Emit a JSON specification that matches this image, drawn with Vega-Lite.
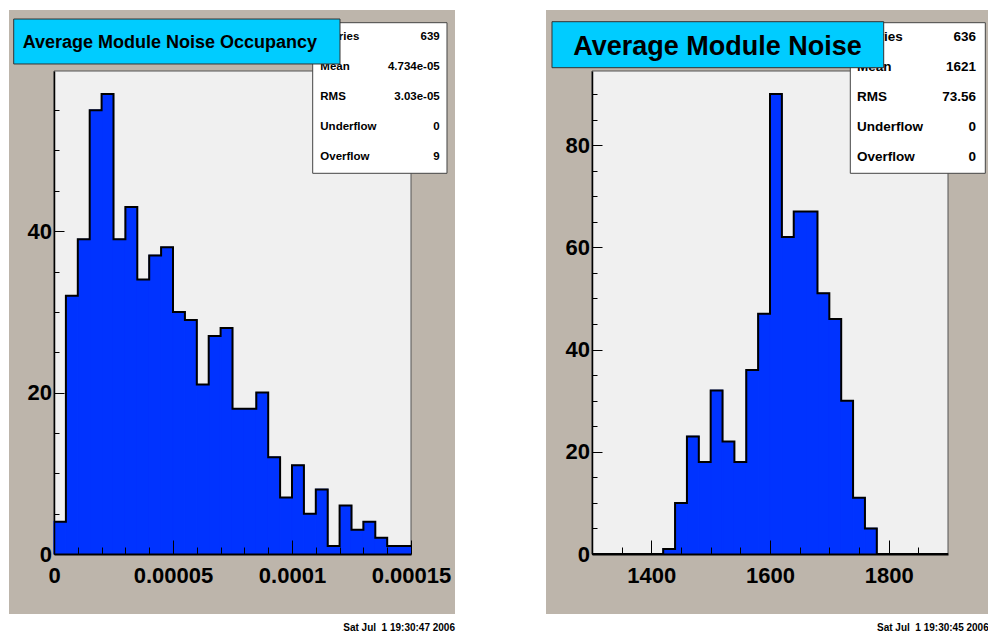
{
  "$schema": "https://vega.github.io/schema/vega-lite/v6.json",
  "autosize": {"type": "pad"},
  "padding": {"left": 8, "top": 9, "right": 0, "bottom": 0},
  "background": "white",
  "bounds": "flush",
  "spacing": 181,
  "config": {
    "view": {"stroke": null},
    "axis": {
      "labelFont": "Liberation Sans",
      "labelFontWeight": "bold",
      "labelFontSize": 22,
      "labelColor": "black",
      "tickColor": "black",
      "tickWidth": 1,
      "domainColor": "black",
      "grid": false,
      "labelFlush": false,
      "labelOverlap": false
    },
    "text": {"font": "Liberation Sans", "fontWeight": "bold", "color": "black"}
  },
  "hconcat": [
    {
      "width": 357,
      "height": 483,
      "data": {"values": [
        {"lo": 0, "hi": 0.000005, "count": 4},
        {"lo": 0.000005, "hi": 0.00001, "count": 32},
        {"lo": 0.00001, "hi": 0.000015, "count": 39},
        {"lo": 0.000015, "hi": 0.00002, "count": 55},
        {"lo": 0.00002, "hi": 0.000025, "count": 57},
        {"lo": 0.000025, "hi": 0.00003, "count": 39},
        {"lo": 0.00003, "hi": 0.000035, "count": 43},
        {"lo": 0.000035, "hi": 0.00004, "count": 34},
        {"lo": 0.00004, "hi": 0.000045, "count": 37},
        {"lo": 0.000045, "hi": 0.00005, "count": 38},
        {"lo": 0.00005, "hi": 0.000055, "count": 30},
        {"lo": 0.000055, "hi": 0.00006, "count": 29},
        {"lo": 0.00006, "hi": 0.000065, "count": 21},
        {"lo": 0.000065, "hi": 0.00007, "count": 27},
        {"lo": 0.00007, "hi": 0.000075, "count": 28},
        {"lo": 0.000075, "hi": 0.00008, "count": 18},
        {"lo": 0.00008, "hi": 0.000085, "count": 18},
        {"lo": 0.000085, "hi": 0.00009, "count": 20},
        {"lo": 0.00009, "hi": 0.000095, "count": 12},
        {"lo": 0.000095, "hi": 0.0001, "count": 7},
        {"lo": 0.0001, "hi": 0.000105, "count": 11},
        {"lo": 0.000105, "hi": 0.00011, "count": 5},
        {"lo": 0.00011, "hi": 0.000115, "count": 8},
        {"lo": 0.000115, "hi": 0.00012, "count": 1},
        {"lo": 0.00012, "hi": 0.000125, "count": 6},
        {"lo": 0.000125, "hi": 0.00013, "count": 3},
        {"lo": 0.00013, "hi": 0.000135, "count": 4},
        {"lo": 0.000135, "hi": 0.00014, "count": 2},
        {"lo": 0.00014, "hi": 0.000145, "count": 1},
        {"lo": 0.000145, "hi": 0.00015, "count": 1}
      ]},
      "resolve": {"axis": {"x": "independent", "y": "independent"}},
      "layer": [
        {
          "data": {"values": [{}]},
          "mark": {"type": "rect", "fill": "#bdb5ab", "clip": false},
          "encoding": {
            "x": {"datum": -0.000018908, "type": "quantitative", "axis": null},
            "x2": {"datum": 0.000168487},
            "y": {"datum": 67.409, "type": "quantitative", "axis": null},
            "y2": {"datum": -7.4348}
          }
        },
        {
          "data": {"values": [{}]},
          "mark": {"type": "rect", "fill": "#f0f0f0", "stroke": "#555555", "strokeWidth": 1},
          "encoding": {
            "x": {"datum": 0, "type": "quantitative", "title": null,
              "scale": {"domain": [0, 0.00015], "nice": false, "zero": false},
              "axis": {"orient": "bottom", "zindex": 1, "values": [0.00001, 0.00002, 0.00003, 0.00004, 0.00006, 0.00007, 0.00008, 0.00009, 0.00011, 0.00012, 0.00013, 0.00014], "tickSize": -7, "labels": false, "domain": false}},
            "x2": {"datum": 0.00015},
            "y": {"datum": 0, "type": "quantitative", "title": null,
              "scale": {"domain": [0, 59.85], "nice": false, "zero": false},
              "axis": {"orient": "left", "zindex": 1, "values": [5, 10, 15, 25, 30, 35, 45, 50, 55], "tickSize": -5, "labels": false, "domain": false}},
            "y2": {"datum": 59.85}
          }
        },
        {
          "mark": {"type": "rect", "fill": "#0033ff", "stroke": "#0033ff", "strokeWidth": 1.2},
          "encoding": {
            "x": {"field": "lo", "type": "quantitative", "title": null,
              "scale": {"domain": [0, 0.00015], "nice": false, "zero": false},
              "axis": {"orient": "bottom", "zindex": 1, "values": [0, 0.00005, 0.0001, 0.00015], "format": ".5~f", "tickSize": -14, "labelPadding": 25, "domainWidth": 2}},
            "x2": {"field": "hi"},
            "y": {"field": "count", "type": "quantitative", "title": null,
              "scale": {"domain": [0, 59.85], "nice": false, "zero": false},
              "axis": {"orient": "left", "zindex": 1, "values": [0, 20, 40], "tickSize": -10, "labelPadding": 12.5, "domainWidth": 1.5}},
            "y2": {"datum": 0}
          }
        },
        {
          "transform": [
            {"fold": ["lo", "hi"], "as": ["edge", "xpos"]},
            {"window": [{"op": "row_number", "as": "idx"}], "sort": [{"field": "xpos", "order": "ascending"}, {"field": "edge", "order": "ascending"}]}
          ],
          "mark": {"type": "line", "color": "black", "strokeWidth": 2, "interpolate": "linear"},
          "encoding": {
            "x": {"field": "xpos", "type": "quantitative", "axis": null},
            "y": {"field": "count", "type": "quantitative", "axis": null},
            "order": {"field": "idx", "type": "quantitative"}
          }
        },
        {
          "data": {"values": [{}]},
          "mark": {"type": "rect", "fill": "white", "stroke": "#444444", "strokeWidth": 1, "clip": false},
          "encoding": {
            "x": {"datum": 0.000108697, "type": "quantitative", "axis": null},
            "x2": {"datum": 0.000165126},
            "y": {"datum": 65.835, "type": "quantitative", "axis": null},
            "y2": {"datum": 47.174}
          }
        },
        {
          "data": {"values": [{}]},
          "mark": {"type": "text", "align": "left", "baseline": "middle", "fontSize": 11.5, "lineHeight": 29.9,
            "text": ["Entries", "Mean", "RMS", "Underflow", "Overflow"]},
          "encoding": {
            "x": {"datum": 0.000111891, "type": "quantitative", "axis": null},
            "y": {"datum": 64.063, "type": "quantitative", "axis": null}
          }
        },
        {
          "data": {"values": [{}]},
          "mark": {"type": "text", "align": "right", "baseline": "middle", "fontSize": 11.5, "lineHeight": 29.9,
            "text": ["639", "4.734e-05", "3.03e-05", "0", "9"]},
          "encoding": {
            "x": {"datum": 0.000162059, "type": "quantitative", "axis": null},
            "y": {"datum": 64.063, "type": "quantitative", "axis": null}
          }
        },
        {
          "data": {"values": [{}]},
          "mark": {"type": "rect", "fill": "#00ccff", "stroke": "#333333", "strokeWidth": 1, "clip": false},
          "encoding": {
            "x": {"datum": -0.000016933, "type": "quantitative", "axis": null},
            "x2": {"datum": 0.000120168},
            "y": {"datum": 66.29, "type": "quantitative", "axis": null},
            "y2": {"datum": 60.72}
          }
        },
        {
          "data": {"values": [{}]},
          "mark": {"type": "text", "align": "left", "baseline": "middle", "fontSize": 18, "text": "Average Module Noise Occupancy"},
          "encoding": {
            "x": {"datum": -0.000013151, "type": "quantitative", "axis": null},
            "y": {"datum": 63.28, "type": "quantitative", "axis": null}
          }
        },
        {
          "data": {"values": [{}]},
          "mark": {"type": "text", "align": "right", "baseline": "middle", "fontSize": 10, "text": "Sat Jul \u00a01 19:30:47 2006"},
          "encoding": {
            "x": {"datum": 0.000168487, "type": "quantitative", "axis": null},
            "y": {"datum": -9.1695, "type": "quantitative", "axis": null}
          }
        }
      ]
    },
    {
      "width": 356,
      "height": 483,
      "data": {"values": [
        {"lo": 1300, "hi": 1320, "count": 0},
        {"lo": 1320, "hi": 1340, "count": 0},
        {"lo": 1340, "hi": 1360, "count": 0},
        {"lo": 1360, "hi": 1380, "count": 0},
        {"lo": 1380, "hi": 1400, "count": 0},
        {"lo": 1400, "hi": 1420, "count": 0},
        {"lo": 1420, "hi": 1440, "count": 1},
        {"lo": 1440, "hi": 1460, "count": 10},
        {"lo": 1460, "hi": 1480, "count": 23},
        {"lo": 1480, "hi": 1500, "count": 18},
        {"lo": 1500, "hi": 1520, "count": 32},
        {"lo": 1520, "hi": 1540, "count": 22},
        {"lo": 1540, "hi": 1560, "count": 18},
        {"lo": 1560, "hi": 1580, "count": 36},
        {"lo": 1580, "hi": 1600, "count": 47},
        {"lo": 1600, "hi": 1620, "count": 90},
        {"lo": 1620, "hi": 1640, "count": 62},
        {"lo": 1640, "hi": 1660, "count": 67},
        {"lo": 1660, "hi": 1680, "count": 67},
        {"lo": 1680, "hi": 1700, "count": 51},
        {"lo": 1700, "hi": 1720, "count": 46},
        {"lo": 1720, "hi": 1740, "count": 30},
        {"lo": 1740, "hi": 1760, "count": 11},
        {"lo": 1760, "hi": 1780, "count": 5},
        {"lo": 1780, "hi": 1800, "count": 0},
        {"lo": 1800, "hi": 1820, "count": 0},
        {"lo": 1820, "hi": 1840, "count": 0},
        {"lo": 1840, "hi": 1860, "count": 0},
        {"lo": 1860, "hi": 1880, "count": 0},
        {"lo": 1880, "hi": 1900, "count": 0}
      ]},
      "resolve": {"axis": {"x": "independent", "y": "independent"}},
      "layer": [
        {
          "data": {"values": [{}]},
          "mark": {"type": "rect", "fill": "#bdb5ab", "clip": false},
          "encoding": {
            "x": {"datum": 1222.47, "type": "quantitative", "axis": null},
            "x2": {"datum": 1969.1},
            "y": {"datum": 106.435, "type": "quantitative", "axis": null},
            "y2": {"datum": -11.739}
          }
        },
        {
          "data": {"values": [{}]},
          "mark": {"type": "rect", "fill": "#f0f0f0", "stroke": "#555555", "strokeWidth": 1},
          "encoding": {
            "x": {"datum": 1300, "type": "quantitative", "title": null,
              "scale": {"domain": [1300, 1900], "nice": false, "zero": false},
              "axis": {"orient": "bottom", "zindex": 1, "values": [1350, 1450, 1500, 1550, 1650, 1700, 1750, 1850], "tickSize": -7, "labels": false, "domain": false}},
            "x2": {"datum": 1900},
            "y": {"datum": 0, "type": "quantitative", "title": null,
              "scale": {"domain": [0, 94.5], "nice": false, "zero": false},
              "axis": {"orient": "left", "zindex": 1, "values": [5, 10, 15, 25, 30, 35, 45, 50, 55, 65, 70, 75, 85, 90], "tickSize": -5, "labels": false, "domain": false}},
            "y2": {"datum": 94.5}
          }
        },
        {
          "mark": {"type": "rect", "fill": "#0033ff", "stroke": "#0033ff", "strokeWidth": 1.2},
          "encoding": {
            "x": {"field": "lo", "type": "quantitative", "title": null,
              "scale": {"domain": [1300, 1900], "nice": false, "zero": false},
              "axis": {"orient": "bottom", "zindex": 1, "values": [1400, 1600, 1800], "format": "d", "tickSize": -14, "labelPadding": 25, "domainWidth": 2}},
            "x2": {"field": "hi"},
            "y": {"field": "count", "type": "quantitative", "title": null,
              "scale": {"domain": [0, 94.5], "nice": false, "zero": false},
              "axis": {"orient": "left", "zindex": 1, "values": [0, 20, 40, 60, 80], "tickSize": -10, "labelPadding": 12.5, "domainWidth": 1.5}},
            "y2": {"datum": 0}
          }
        },
        {
          "transform": [
            {"fold": ["lo", "hi"], "as": ["edge", "xpos"]},
            {"window": [{"op": "row_number", "as": "idx"}], "sort": [{"field": "xpos", "order": "ascending"}, {"field": "edge", "order": "ascending"}]}
          ],
          "mark": {"type": "line", "color": "black", "strokeWidth": 2, "interpolate": "linear"},
          "encoding": {
            "x": {"field": "xpos", "type": "quantitative", "axis": null},
            "y": {"field": "count", "type": "quantitative", "axis": null},
            "order": {"field": "idx", "type": "quantitative"}
          }
        },
        {
          "data": {"values": [{}]},
          "mark": {"type": "rect", "fill": "white", "stroke": "#444444", "strokeWidth": 1, "clip": false},
          "encoding": {
            "x": {"datum": 1735.34, "type": "quantitative", "axis": null},
            "x2": {"datum": 1962.87},
            "y": {"datum": 103.95, "type": "quantitative", "axis": null},
            "y2": {"datum": 74.485}
          }
        },
        {
          "data": {"values": [{}]},
          "mark": {"type": "text", "align": "left", "baseline": "middle", "fontSize": 13.5, "lineHeight": 29.9,
            "text": ["Entries", "Mean", "RMS", "Underflow", "Overflow"]},
          "encoding": {
            "x": {"datum": 1746.63, "type": "quantitative", "axis": null},
            "y": {"datum": 101.152, "type": "quantitative", "axis": null}
          }
        },
        {
          "data": {"values": [{}]},
          "mark": {"type": "text", "align": "right", "baseline": "middle", "fontSize": 13.5, "lineHeight": 29.9,
            "text": ["636", "1621", "73.56", "0", "0"]},
          "encoding": {
            "x": {"datum": 1947.19, "type": "quantitative", "axis": null},
            "y": {"datum": 101.152, "type": "quantitative", "axis": null}
          }
        },
        {
          "data": {"values": [{}]},
          "mark": {"type": "rect", "fill": "#00ccff", "stroke": "#333333", "strokeWidth": 1, "clip": false},
          "encoding": {
            "x": {"datum": 1232.58, "type": "quantitative", "axis": null},
            "x2": {"datum": 1791.63},
            "y": {"datum": 104.146, "type": "quantitative", "axis": null},
            "y2": {"datum": 95.146}
          }
        },
        {
          "data": {"values": [{}]},
          "mark": {"type": "text", "align": "left", "baseline": "middle", "fontSize": 27, "text": "Average Module Noise"},
          "encoding": {
            "x": {"datum": 1268.48, "type": "quantitative", "axis": null},
            "y": {"datum": 99.254, "type": "quantitative", "axis": null}
          }
        },
        {
          "data": {"values": [{}]},
          "mark": {"type": "text", "align": "left", "baseline": "middle", "fontSize": 10, "limit": 112, "ellipsis": "", "text": "Sat Jul \u00a01 19:30:45 2006"},
          "encoding": {
            "x": {"datum": 1780.34, "type": "quantitative", "axis": null},
            "y": {"datum": -14.478, "type": "quantitative", "axis": null}
          }
        }
      ]
    }
  ]
}
